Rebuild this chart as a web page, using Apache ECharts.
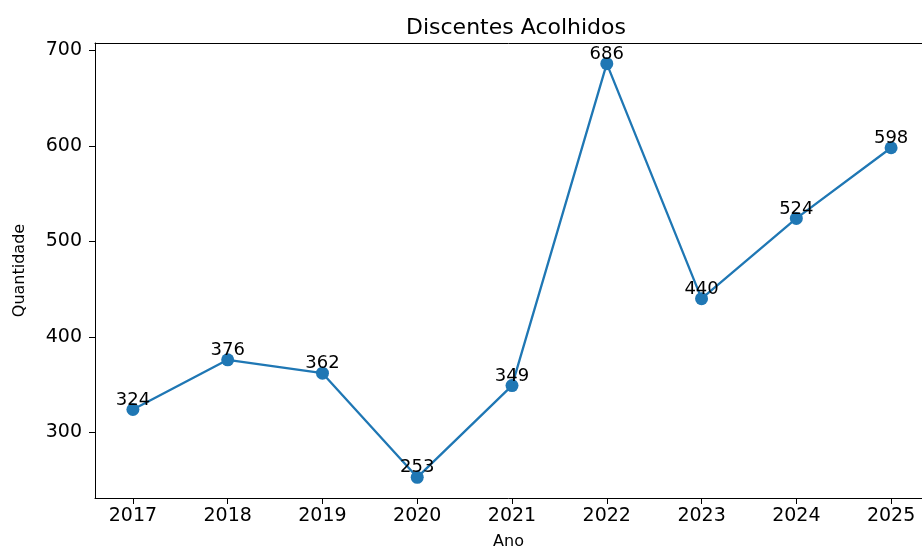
<!DOCTYPE html>
<html><head><meta charset="utf-8">
<script src="https://cdn.jsdelivr.net/npm/echarts@6/dist/echarts.min.js"></script>
<style>html,body{margin:0;padding:0;background:#fff}#c{width:922px;height:548px}</style>
</head><body><div id="c"></div>
<script>
const years = [2017, 2018, 2019, 2020, 2021, 2022, 2023, 2024, 2025];
const values = [324, 376, 362, 253, 349, 686, 440, 524, 598];
const yTicks = [300, 400, 500, 600, 700];
const titleText = 'Discentes Acolhidos';
const xName = 'Ano';
const yName = 'Quantidade';

const font = 'DejaVu Sans';
const chart = echarts.init(document.getElementById('c'));
chart.setOption({
  animation: false,
  backgroundColor: '#fff',
  title: {
    text: titleText, left: 511, top: 12, textAlign: 'center',
    textStyle: {fontFamily: font, fontSize: 22, fontWeight: 'normal', color: '#000'}
  },
  grid: {left: 95, right: 0, top: 43, bottom: 50, outerBoundsMode: 'none', containLabel: false, show: false},
  xAxis: [{
    type: 'value', min: 2016.6, max: 2025.326,
    name: xName, nameLocation: 'middle', nameGap: 36,
    nameTextStyle: {fontFamily: font, fontSize: 16, color: '#000'},
    axisLine: {show: true, onZero: false, lineStyle: {color: '#000', width: 1}},
    axisTick: {show: true, length: 6, customValues: years, lineStyle: {color: '#000'}},
    axisLabel: {customValues: years, fontFamily: font, fontSize: 19, color: '#000', margin: 9, formatter: v => String(v)},
    splitLine: {show: false}
  }, {
    type: 'value', position: 'top', min: 2016.6, max: 2025.326,
    axisLine: {show: true, onZero: false, lineStyle: {color: '#000', width: 1}},
    axisTick: {show: false}, axisLabel: {show: false}, splitLine: {show: false}
  }],
  yAxis: {
    type: 'value', min: 231.35, max: 707.65,
    name: yName, nameLocation: 'middle', nameGap: 67, nameRotate: 90,
    nameTextStyle: {fontFamily: font, fontSize: 16, color: '#000'},
    axisLine: {show: true, lineStyle: {color: '#000', width: 1}},
    axisTick: {show: true, length: 6, customValues: yTicks, lineStyle: {color: '#000'}},
    axisLabel: {customValues: yTicks, fontFamily: font, fontSize: 19, color: '#000', margin: 13},
    splitLine: {show: false}
  },
  series: [{
    type: 'line',
    xAxisIndex: 0,
    data: years.map((y, i) => [y, values[i]]),
    symbol: 'circle', symbolSize: 13,
    lineStyle: {color: '#1f77b4', width: 2.3},
    itemStyle: {color: '#1f77b4'},
    label: {show: true, position: 'top', distance: -6, fontFamily: font, fontSize: 18, color: '#000',
      formatter: p => String(p.value[1])}
  }]
});
</script></body></html>
